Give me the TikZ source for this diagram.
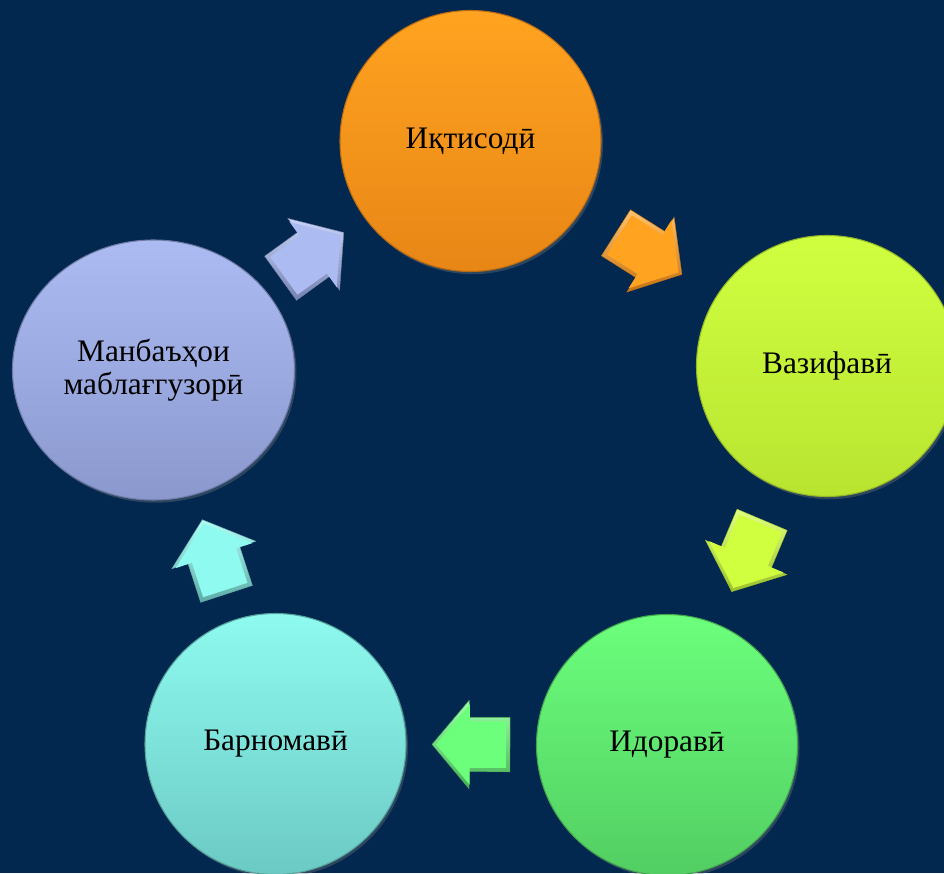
\documentclass[tikz,border=0pt]{standalone}
\usepackage{fontspec}
\setmainfont{Liberation Serif}
\usetikzlibrary{calc,shapes.geometric,shapes.arrows,shadows}

\definecolor{navy}{RGB}{2,40,80}
\definecolor{ecoTop}{RGB}{255,163,32}
\definecolor{ecoBot}{RGB}{232,134,22}
\definecolor{funTop}{RGB}{208,255,64}
\definecolor{funBot}{RGB}{184,228,48}
\definecolor{admTop}{RGB}{108,255,124}
\definecolor{admBot}{RGB}{82,206,98}
\definecolor{prgTop}{RGB}{142,250,240}
\definecolor{prgBot}{RGB}{108,202,196}
\definecolor{srcTop}{RGB}{172,188,242}
\definecolor{srcBot}{RGB}{138,152,206}

\begin{document}
\begin{tikzpicture}[
    x=0.75pt, y=-0.75pt,
    topic/.style={circle, minimum size=195.75pt, inner sep=0pt, align=center,
        font=\fontsize{23.5}{25}\selectfont, top color=#1Top, bottom color=#1Bot,
        draw=#1Bot!80!black, line width=0.8pt,
        drop shadow={opacity=0.35, shadow xshift=1.5pt, shadow yshift=-2pt}},
    flow/.style={single arrow, single arrow tip angle=100, single arrow head extend=12.75pt,
        inner xsep=0pt, inner ysep=20.25pt, minimum height=58.5pt, minimum width=66pt,
        sloped, allow upside down, anchor=tail, pos=0,
        top color=#1Top!65!white, bottom color=#1Bot!85!black,
        draw=#1Bot!85!black, line width=0.3pt},
    face/.style={single arrow, single arrow tip angle=100, single arrow head extend=12.75pt,
        inner xsep=0pt, inner ysep=17.25pt, minimum height=52.5pt, minimum width=60pt,
        sloped, allow upside down, anchor=tail, pos=0, fill=#1Top}
]
    \useasboundingbox (0,0) rectangle (944,873);
    \fill[navy] (0,0) rectangle (944,873);
    \clip (0,0) rectangle (944,873);

    \node[topic=eco] (eco) at (470.5,141) {Иқтисодӣ};
    \node[topic=fun] (fun) at (827,366) {Вазифавӣ};
    \node[topic=adm] (adm) at (667,745) {Идоравӣ};
    \node[topic=prg] (prg) at (275.5,744) {Барномавӣ};
    \node[topic=src, ellipse, minimum width=211.5pt, minimum height=195pt] (src) at (153.5,370) {Манбаъҳои\\маблағгузорӣ};

    % block arrows half way between the circles
    \path ($(eco.center)!0.5!(fun.center)!29.25pt!(eco.center)$) -- node[flow=eco] (a1) {} (fun.center);
    \path ($(eco.center)!0.5!(fun.center)!26.25pt!(eco.center)$) -- node[face=eco] (a1f) {} (fun.center);
    \path ($(fun.center)!0.5!(adm.center)!29.25pt!(fun.center)$) -- node[flow=fun] (a2) {} (adm.center);
    \path ($(fun.center)!0.5!(adm.center)!26.25pt!(fun.center)$) -- node[face=fun] (a2f) {} (adm.center);
    \path ($(adm.center)!0.5!(prg.center)!29.25pt!(adm.center)$) -- node[flow=adm] (a3) {} (prg.center);
    \path ($(adm.center)!0.5!(prg.center)!26.25pt!(adm.center)$) -- node[face=adm] (a3f) {} (prg.center);
    \path ($(prg.center)!0.5!(src.center)!29.25pt!(prg.center)$) -- node[flow=prg] (a4) {} (src.center);
    \path ($(prg.center)!0.5!(src.center)!26.25pt!(prg.center)$) -- node[face=prg] (a4f) {} (src.center);
    \path ($(src.center)!0.5!(eco.center)!29.25pt!(src.center)$) -- node[flow=src] (a5) {} (eco.center);
    \path ($(src.center)!0.5!(eco.center)!26.25pt!(src.center)$) -- node[face=src] (a5f) {} (eco.center);
\end{tikzpicture}
\end{document}
